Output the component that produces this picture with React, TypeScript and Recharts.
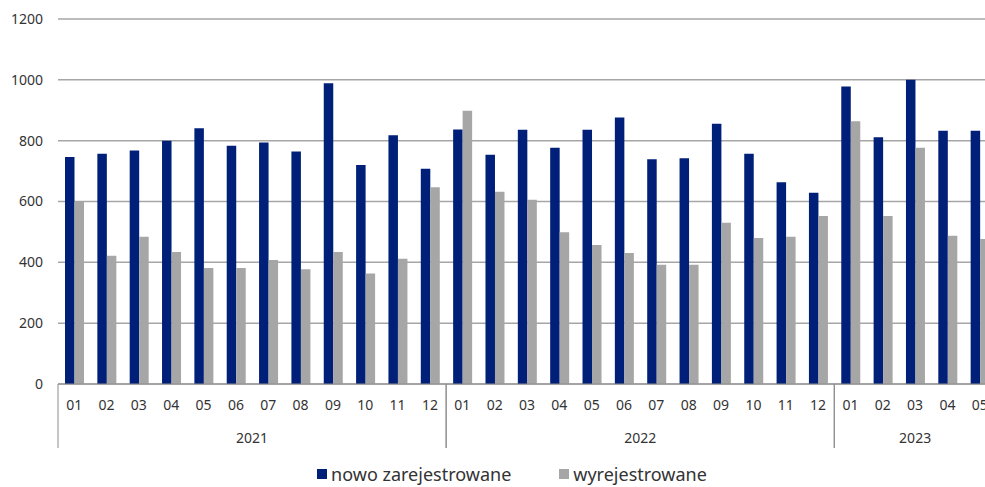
import { Bar, BarChart, CartesianGrid, Legend, XAxis, YAxis } from "recharts";

const MONTHS = [
  "01", "02", "03", "04", "05", "06", "07", "08", "09", "10", "11", "12",
  "01", "02", "03", "04", "05", "06", "07", "08", "09", "10", "11", "12",
  "01", "02", "03", "04", "05",
];
const YEARS = [
  "2021", "2021", "2021", "2021", "2021", "2021", "2021", "2021", "2021", "2021", "2021", "2021",
  "2022", "2022", "2022", "2022", "2022", "2022", "2022", "2022", "2022", "2022", "2022", "2022",
  "2023", "2023", "2023", "2023", "2023",
];
const NOWO = [
  746, 757, 768, 800, 841, 783, 794, 764, 989, 720, 818, 708,
  837, 754, 836, 777, 836, 876, 739, 742, 856, 757, 663, 629,
  978, 811, 1000, 833, 833,
];
const WYREJ = [
  601, 422, 484, 434, 381, 381, 408, 377, 434, 363, 412, 647,
  898, 632, 606, 499, 457, 431, 392, 392, 530, 480, 484, 552,
  864, 552, 777, 487, 477,
];
const Y_TICKS = [0, 200, 400, 600, 800, 1000, 1200];

const NAVY = "#001f78";
const GRAY = "#a6a6a6";
const FONT = "'Noto Sans', 'Open Sans', sans-serif";

const data = MONTHS.map((m, i) => ({
  m,
  year: YEARS[i],
  nowo: NOWO[i],
  wyrej: WYREJ[i],
}));

// month label + year label + group separators
function MonthTick(props: any) {
  const { x, y, index, payload } = props;
  const half = payload?.offset ?? 16;
  const year = YEARS[index];
  const first = index === 0 || YEARS[index - 1] !== year;
  const last = index === YEARS.length - 1 || YEARS[index + 1] !== year;
  const groupIdx = YEARS.map((yy, i) => (yy === year ? i : -1)).filter((i) => i >= 0);
  const mid = (groupIdx.length - 1) / 2;
  const pos = groupIdx.indexOf(index);
  const showYear = pos === Math.floor(mid);
  const yearX = x + (mid - pos) * half * 2;
  return (
    <g>
      <text x={x} y={y + 26} textAnchor="middle" fill="#333" fontSize={14} fontFamily={FONT}>
        {payload.value}
      </text>
      {showYear && (
        <text x={yearX} y={y + 59} textAnchor="middle" fill="#333" fontSize={14} fontFamily={FONT}>
          {year}
        </text>
      )}
      {first && <line x1={x - half} x2={x - half} y1={y} y2={y + 64} stroke="#8c8c8c" />}
      {last && <line x1={x + half} x2={x + half} y1={y} y2={y + 64} stroke="#8c8c8c" />}
    </g>
  );
}

function LegendContent() {
  const items = [
    { label: "nowo zarejestrowane", color: NAVY },
    { label: "wyrejestrowane", color: GRAY },
  ];
  return (
    <div
      style={{
        display: "flex",
        justifyContent: "center",
        gap: 48,
        height: 33,
        boxSizing: "border-box",
        paddingTop: 10,
        paddingLeft: 28,
        fontFamily: FONT,
        fontSize: 18,
        lineHeight: "20px",
        color: "#333",
      }}
    >
      {items.map((it) => (
        <div key={it.label} style={{ display: "flex", alignItems: "center", height: 20 }}>
          <span style={{ width: 10, height: 10, background: it.color, marginRight: 4, display: "inline-block" }} />
          {it.label}
        </div>
      ))}
    </div>
  );
}

export default function App() {
  return (
    <div style={{ position: "fixed", left: 0, top: 0, width: 985, height: 487, overflow: "hidden", background: "#fff" }}>
      <BarChart
        width={1000}
        height={487}
        data={data}
        margin={{ top: 19, right: 4, left: 0, bottom: 0 }}
        barGap={0}
        barSize={9.5}
      >
        <CartesianGrid vertical={false} stroke={GRAY} strokeWidth={1.5} />
        <XAxis
          dataKey="m"
          interval={0}
          height={70}
          tickLine={false}
          tickSize={0}
          tickMargin={0}
          axisLine={{ stroke: "#8c8c8c" }}
          tick={<MonthTick />}
        />
        <YAxis
          width={58}
          domain={[0, 1200]}
          ticks={Y_TICKS}
          axisLine={false}
          tickLine={false}
          tickSize={0}
          tickMargin={15}
          tick={{ fill: "#333", fontSize: 14, fontFamily: FONT }}
        />
        <Legend verticalAlign="bottom" height={33} content={<LegendContent />} wrapperStyle={{ padding: 0 }} />
        <Bar dataKey="nowo" name="nowo zarejestrowane" fill={NAVY} isAnimationActive={false} />
        <Bar dataKey="wyrej" name="wyrejestrowane" fill={GRAY} isAnimationActive={false} />
      </BarChart>
    </div>
  );
}
